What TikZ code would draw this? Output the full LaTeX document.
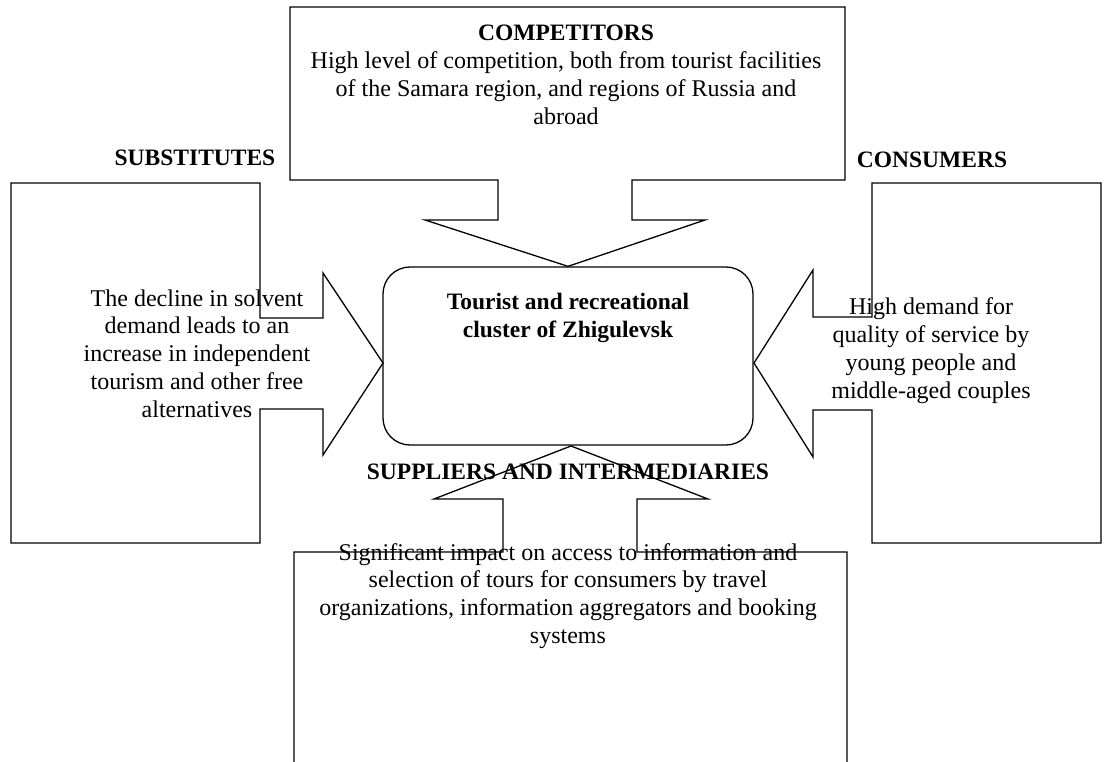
\documentclass[tikz,border=0pt]{standalone}
\usepackage{fontspec}
\setmainfont{Liberation Serif}
\begin{document}
\begin{tikzpicture}[x=1pt,y=-1pt,
  outline/.style={draw=black,line width=1.3pt,line join=miter},
  txt/.style={align=center,inner sep=0pt,font=\fontsize{24}{27.8}\selectfont},
  hdr/.style={align=center,inner sep=0pt,font=\fontsize{23.5}{27.8}\selectfont\bfseries}]
\useasboundingbox (0,0) rectangle (1104,762);
% centre
\node[outline,rounded corners=27pt,minimum width=370pt,minimum height=178pt,inner sep=0pt] (center) at (568,356) {};
\node[hdr] (ctitle) at (568,318) {Tourist and recreational\\cluster of Zhigulevsk};
% top callout
\draw[outline] (290,7) -- (845,7) -- (845,180) -- (632,180) -- (632,220) -- (705,220)
  -- (center.north) -- (425,220) -- (498,220) -- (498,180) -- (290,180) -- cycle;
\node[hdr] (comp) at (566,33) {COMPETITORS};
\node[txt] (comptxt) at (566,88) {High level of competition, both from tourist facilities\\of the Samara region, and regions of Russia and\\abroad};
% left callout
\coordinate (ltip) at (383,363);
\draw[outline] (11,183) -- (260,183) -- (260,318) -- (323,318) -- (323,273) -- (ltip)
  -- (323,455) -- (323,409) -- (260,409) -- (260,543) -- (11,543) -- cycle;
\node[hdr] (subst) at (195,158) {SUBSTITUTES};
\node[txt] (substtxt) at (197,353.5) {The decline in solvent\\demand leads to an\\increase in independent\\tourism and other free\\alternatives};
% right callout
\coordinate (rtip) at (754,363);
\draw[outline] (872,183) -- (1101,183) -- (1101,543) -- (872,543) -- (872,410) -- (813,410)
  -- (813,457) -- (rtip) -- (813,270) -- (813,317) -- (872,317) -- cycle;
\node[hdr] (cons) at (932,160) {CONSUMERS};
\node[txt] (constxt) at (931,350.5) {High demand for\\quality of service by\\young people and\\middle-aged couples};
% bottom callout
\coordinate (btip) at (571,446);
\draw[outline] (294,770) -- (294,552) -- (503,552) -- (503,499) -- (434,499) -- (btip)
  -- (708,499) -- (637,499) -- (637,552) -- (847,552) -- (847,770);
\node[hdr] (supp) at (568,472) {SUPPLIERS AND INTERMEDIARIES};
\node[txt] (supptxt) at (568,596) {Significant impact on access to information and\\selection of tours for consumers by travel\\organizations, information aggregators and booking\\systems};
\end{tikzpicture}
\end{document}
